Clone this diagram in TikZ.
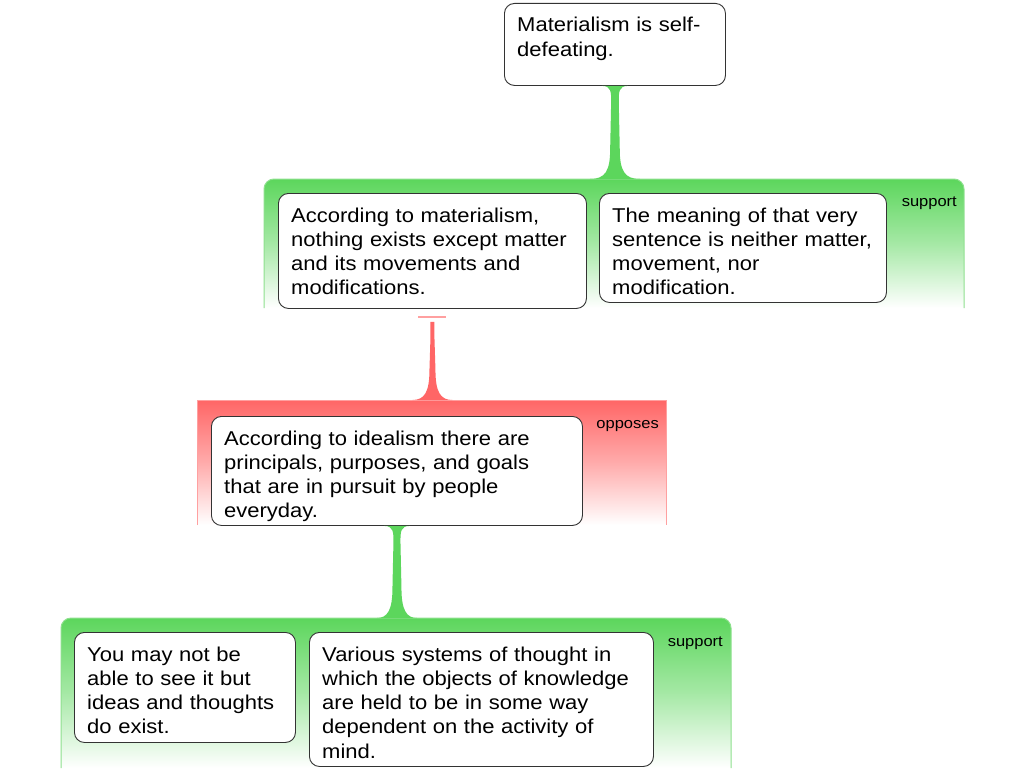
\documentclass[tikz,border=0pt]{standalone}
\usepackage{fontspec}
\setmainfont{Liberation Sans}[FakeStretch=1.1]
\usetikzlibrary{calc}
\definecolor{gr}{HTML}{5CD65C}
\definecolor{rd}{HTML}{FF6666}
\definecolor{gredge}{HTML}{8EE08E}
\definecolor{rdedge}{HTML}{FFA0A0}
\definecolor{bord}{HTML}{333333}
\tikzset{
 box/.style={draw=bord, fill=white, rounded corners=10pt, line width=0.9pt, inner sep=0pt, anchor=north west},
 txt/.style={anchor=base west, inner sep=0pt, text width=420pt, align=left, font=\fontsize{20}{24.3}\selectfont},
 lbl/.style={anchor=base east, inner sep=0pt, font=\fontsize{15}{18}\selectfont},
 gshade/.style={top color=gr, bottom color=white, middle color=gr!55},
 rshade/.style={top color=rd, bottom color=white, middle color=rd!55},
 gline/.style={draw=gredge, line width=1pt},
 rline/.style={draw=rdedge, line width=1pt},
}
% flared connector: #1 top coord, #2 bottom coord, #3 top half width, #4 stem half width, #5 bottom half width, #6 colour
\newcommand\myflare[6]{%
 \fill[#6] ($(#1)+(-#3,0)$) .. controls ($(#1)+(-#4,0)$) and ($(#1)+(-#4,6)$) .. ($(#1)+(-#4,16)$)
   -- ($(#2)+(-#4-1,-30)$) .. controls ($(#2)+(-#4-1,-8)$) and ($(#2)+(-#4-6,0)$) .. ($(#2)+(-#5,0)$)
   -- ($(#2)+(#5,0)$) .. controls ($(#2)+(#4+6,0)$) and ($(#2)+(#4+1,-8)$) .. ($(#2)+(#4+1,-30)$)
   -- ($(#1)+(#4,16)$) .. controls ($(#1)+(#4,6)$) and ($(#1)+(#4,0)$) .. ($(#1)+(#3,0)$) -- cycle;}
\begin{document}
\begin{tikzpicture}[x=1pt,y=-1pt]
\useasboundingbox[fill=white] (0,0) rectangle (1024,768);

% group 1 (support)
\coordinate (g1n) at (264,179);
\shade[gshade] (264,308) -- (264,189) arc[start angle=180,end angle=270,radius=10] -- (954,179) arc[start angle=270,end angle=360,radius=10] -- (964,308) -- cycle;
\draw[gline] (264,308) -- (264,189) arc[start angle=180,end angle=270,radius=10] -- (954,179) arc[start angle=270,end angle=360,radius=10] -- (964,308);
\node[lbl] (s1) at (957,206) {support};

% red group (opposes)
\coordinate (rn) at (197,400);
\shade[rshade] (197,525) rectangle (666,400);
\draw[rline] (197,525) -- (197,400) -- (666,400) -- (666,525);
\node[lbl] (op) at (659,428) {opposes};

% group 2 (support)
\coordinate (g2n) at (61,618);
\shade[gshade] (61,768) -- (61,628) arc[start angle=180,end angle=270,radius=10] -- (721,618) arc[start angle=270,end angle=360,radius=10] -- (731,768) -- cycle;
\draw[gline] (61,768) -- (61,628) arc[start angle=180,end angle=270,radius=10] -- (721,618) arc[start angle=270,end angle=360,radius=10] -- (731,768);
\node[lbl] (s3) at (723,646) {support};

% boxes
\node[box, minimum width=221pt, minimum height=82pt] (m) at (504,3) {};
\node[txt] (mt) at ($(m.north west)+(13,29)$) {Materialism is self-\\defeating.};

\node[box, minimum width=308pt, minimum height=115pt] (A) at (278,193) {};
\node[txt] (At) at ($(A.north west)+(13,29)$) {According to materialism,\\nothing exists except matter\\and its movements and\\modifications.};

\node[box, minimum width=287pt, minimum height=109pt] (B) at (599,193) {};
\node[txt] (Bt) at ($(B.north west)+(13,29)$) {The meaning of that very\\sentence is neither matter,\\movement, nor\\modification.};

\node[box, minimum width=371pt, minimum height=109pt] (I) at (211,416) {};
\node[txt] (It) at ($(I.north west)+(13,29)$) {According to idealism there are\\principals, purposes, and goals\\that are in pursuit by people\\everyday.};

\node[box, minimum width=221pt, minimum height=110pt] (C) at (74,632) {};
\node[txt] (Ct) at ($(C.north west)+(13,29)$) {You may not be\\able to see it but\\ideas and thoughts\\do exist.};

\node[box, minimum width=344pt, minimum height=134pt] (D) at (309,632) {};
\node[txt] (Dt) at ($(D.north west)+(13,29)$) {Various systems of thought in\\which the objects of knowledge\\are held to be in some way\\dependent on the activity of\\mind.};

% connectors
\coordinate (c1b) at (m.south |- g1n);
\myflare{m.south}{c1b}{13}{3.8}{25}{gr}

\coordinate (rbar) at ($(A.south)+(0,8)$);
\coordinate (rtop) at ($(A.south)+(0,13)$);
\coordinate (c2b) at (A.south |- rn);
\draw[rdedge, line width=1.5pt] ($(rbar)+(-14,0)$) -- ($(rbar)+(14,0)$);
\myflare{rtop}{c2b}{2}{2}{20}{rd}

\coordinate (c3b) at (I.south |- g2n);
\myflare{I.south}{c3b}{13}{3.5}{20}{gr}
\end{tikzpicture}
\end{document}
